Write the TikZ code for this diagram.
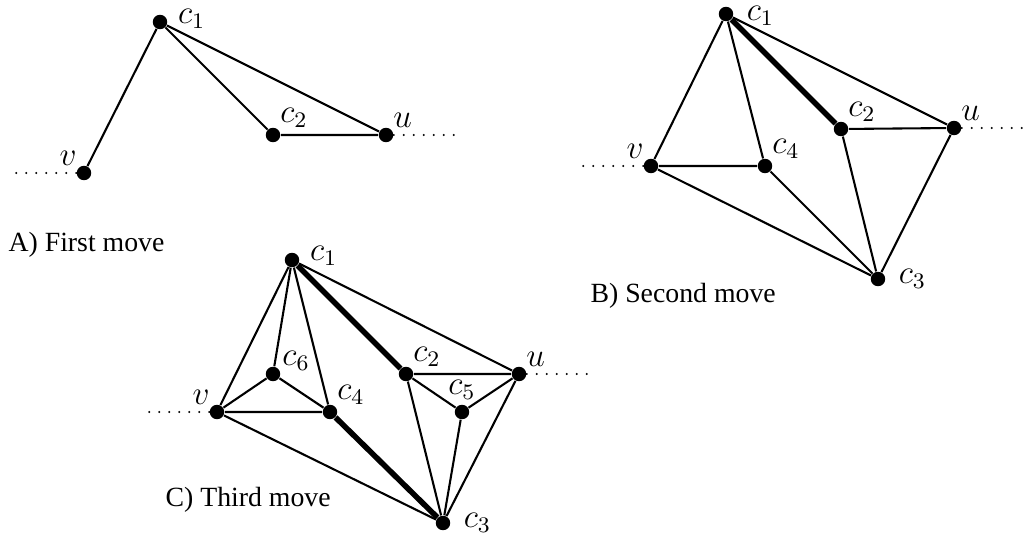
\documentclass[tikz,border=0pt]{standalone}
\usepackage{fontspec}
\setmainfont{Liberation Serif}
\usepackage{tikz}
\usetikzlibrary{positioning}

\begin{document}
\begin{tikzpicture}[
    x=0.36pt, y=-0.36pt,
    dot/.style={circle, fill=black, inner sep=0pt, minimum size=5.2pt},
    edge/.style={line width=0.75pt},
    heavy/.style={line width=2pt},
    dotline/.style={line width=0.75pt, line cap=round, dash pattern=on 0pt off 3.6pt},
    lbl/.style={inner sep=0.5pt, font=\large},
    caption/.style={anchor=west, inner sep=0pt, font=\normalsize}
]
\useasboundingbox (0,0) rectangle (1028,535);

% First move
\node[dot, label={[lbl, label distance=3pt, yshift=1pt]right:$c_1$}] (a1) at (160,22) {};
\node[dot, label={[lbl]above right:$c_2$}] (a2) at (273,135) {};
\node[dot, label={[lbl]above right:$u$}] (au) at (386,135) {};
\node[dot, label={[lbl]above left:$v$}] (av) at (84,173) {};
\coordinate (au-end) at (462,135);
\coordinate (av-end) at (8,173);
\draw[edge] (a1) -- (av) (a1) -- (a2) (a1) -- (au) (a2) -- (au);
\draw[dotline] (au) -- (au-end) (av) -- (av-end);
\node[caption] (capA) at (8,245) {A) First move};

% Second move
\node[dot, label={[lbl, label distance=4pt, yshift=-0.8pt]right:$c_1$}] (b1) at (726,14) {};
\node[dot, label={[lbl]above right:$c_2$}] (b2) at (841,129) {};
\node[dot, label={[lbl, label distance=4pt]right:$c_3$}] (b3) at (878,279) {};
\node[dot, label={[lbl]above right:$c_4$}] (b4) at (765,166) {};
\node[dot, label={[lbl]above right:$u$}] (bu) at (954,128) {};
\node[dot, label={[lbl]above left:$v$}] (bv) at (651,166) {};
\coordinate (bu-end) at (1022,128);
\coordinate (bv-end) at (577,166);
\draw[edge] (b1) -- (bv) (b1) -- (b4) (b1) -- (bu) (b2) -- (bu)
    (b2) -- (b3) (bu) -- (b3) (bv) -- (b4) (bv) -- (b3) (b4) -- (b3);
\draw[heavy] (b1) -- (b2);
\draw[dotline] (bu) -- (bu-end) (bv) -- (bv-end);
\node[caption] (capB) at (590,296) {B) Second move};

% Third move
\node[dot, label={[lbl, label distance=3pt, yshift=1.5pt]right:$c_1$}] (c1) at (292,260) {};
\node[dot, label={[lbl]above right:$c_2$}] (c2) at (406,374) {};
\node[dot, label={[lbl, label distance=4pt]right:$c_3$}] (c3) at (443,523) {};
\node[dot, label={[lbl]above right:$c_4$}] (c4) at (330,412) {};
\node[dot, label={[lbl, label distance=1pt]above:$c_5$}] (c5) at (462,412) {};
\node[dot, label={[lbl]15:$c_6$}] (c6) at (273,374) {};
\node[dot, label={[lbl]above right:$u$}] (cu) at (519,374) {};
\node[dot, label={[lbl]above left:$v$}] (cv) at (217,412) {};
\coordinate (cu-end) at (595,374);
\coordinate (cv-end) at (142,412);
\draw[edge] (c1) -- (cv) (c1) -- (c6) (c1) -- (c4) (c1) -- (cu) (c2) -- (cu)
    (c2) -- (c5) (c5) -- (cu) (c2) -- (c3) (c5) -- (c3) (cu) -- (c3)
    (cv) -- (c6) (c6) -- (c4) (cv) -- (c4) (cv) -- (c3);
\draw[heavy] (c1) -- (c2) (c4) -- (c3);
\draw[dotline] (cu) -- (cu-end) (cv) -- (cv-end);
\node[caption] (capC) at (165,500) {C) Third move};
\end{tikzpicture}
\end{document}
